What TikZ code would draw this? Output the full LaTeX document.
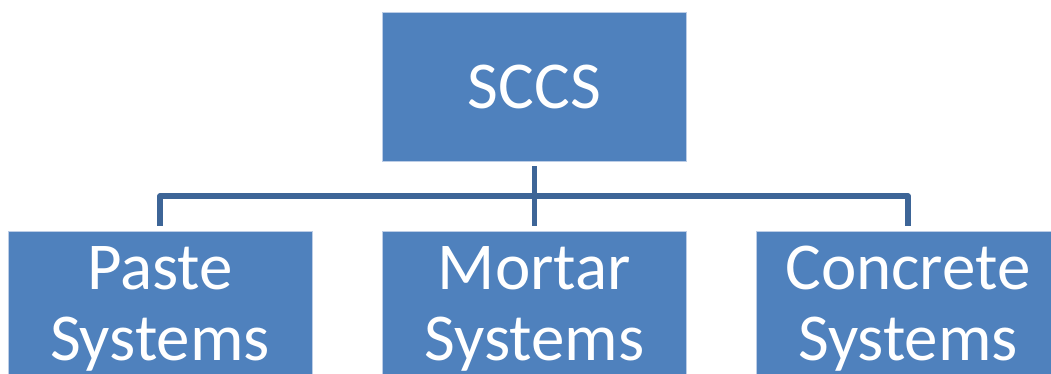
\documentclass[tikz,border=0pt]{standalone}
\usepackage{fontspec}
\setmainfont{Carlito}
\definecolor{boxfill}{HTML}{4F81BD}
\definecolor{boxedge}{HTML}{BCCDE6}
\definecolor{linkcol}{HTML}{3D6597}

\begin{document}
\begin{tikzpicture}[x=1pt,y=-1pt,
	box/.style={draw=boxedge,line width=0.8pt,fill=boxfill,text=white,
		font=\fontsize{67}{71}\selectfont,align=center,inner sep=0pt,
		minimum width=304pt,minimum height=156pt},
	link/.style={draw=linkcol,line width=5.5pt,line join=round}]
	\useasboundingbox (0,0) rectangle (1051,373);
	\clip (0,0) rectangle (1051,373);
	% boxes
	\node[box,minimum height=149pt] (sccs) at (534.5,86.5) {SCCS};
	\node[box] (paste) at (160,309) {Paste\\Systems};
	\node[box] (mortar) at (534.5,309) {Mortar\\Systems};
	\node[box] (concrete) at (908,309) {Concrete\\Systems};
	% connectors
	\coordinate (bus) at (534.5,196);
	\draw[link] ([yshift=-5pt]sccs.south) -- ([yshift=5pt]mortar.north);
	\draw[link] ([yshift=5pt]paste.north) |- (bus) -| ([yshift=5pt]concrete.north);
\end{tikzpicture}
\end{document}
